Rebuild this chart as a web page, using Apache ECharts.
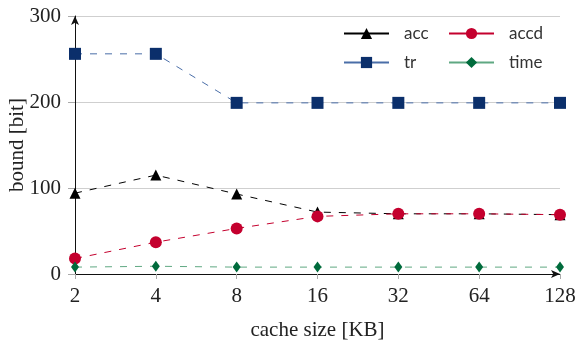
<!DOCTYPE html>
<html>
<head>
<meta charset="utf-8">
<script src="https://cdn.jsdelivr.net/npm/echarts@6/dist/echarts.min.js"></script>
<style>
  html, body { margin: 0; padding: 0; background: #fff; }
  #chart { width: 576px; height: 340px; }
</style>
</head>
<body>
<div id="chart"></div>
<script>
const cacheSizes = ['2', '4', '8', '16', '32', '64', '128']
const accValues = [94, 115, 93, 72, 70, 70, 69]
const accdValues = [18, 37, 53, 67, 70, 70, 69]
const trValues = [256, 256, 199, 199, 199, 199, 199]
const timeValues = [8, 9, 8, 8, 8, 8, 8]

const serifFont = '"Liberation Serif", "DejaVu Serif", serif'
const sansFont = 'Lato, "Open Sans", sans-serif'

function makeSeries(name, data, symbol, size, color, lineColor) {
  return {
    name: name,
    type: 'line',
    data: data,
    symbol: symbol,
    symbolSize: size,
    itemStyle: { color: color },
    lineStyle: { color: lineColor, width: 1, type: [7, 8] },
    z: 3
  }
}

// two legend columns, same look
function legendColumn(names, left) {
  return {
    data: names,
    orient: 'vertical',
    left: left,
    top: 20,
    itemGap: 12,
    itemWidth: 45,
    itemHeight: 14,
    lineStyle: { type: 'solid' },
    textStyle: {
      fontFamily: sansFont,
      fontSize: 17,
      lineHeight: 14,
      color: '#333',
      padding: [0, 0, 0, 10]
    }
  }
}

const chart = echarts.init(document.getElementById('chart'))

const option = {
  animation: false,
  grid: { left: 75, right: 16, top: 16, bottom: 66, outerBoundsMode: 'none' },
  legend: [
    legendColumn(['acc', 'tr'], 338),
    legendColumn(['accd', 'time'], 443)
  ],
  xAxis: {
    type: 'category',
    data: cacheSizes,
    boundaryGap: false,
    name: 'cache size [KB]',
    nameLocation: 'middle',
    nameGap: 46,
    nameMoveOverlap: false,
    nameTextStyle: { fontFamily: serifFont, fontSize: 21, color: '#222' },
    axisLine: {
      lineStyle: { color: '#111', width: 1 },
      symbol: ['none', 'arrow'],
      symbolSize: [6, 9]
    },
    axisTick: { alignWithLabel: true, length: 5, lineStyle: { color: '#aaa' } },
    axisLabel: { fontFamily: serifFont, fontSize: 21, color: '#222', margin: 12 },
    splitLine: { show: false }
  },
  yAxis: {
    type: 'value',
    min: 0,
    max: 300,
    interval: 100,
    name: 'bound [bit]',
    nameLocation: 'middle',
    nameGap: 47,
    nameMoveOverlap: false,
    nameTextStyle: { fontFamily: serifFont, fontSize: 21, color: '#222' },
    axisLine: {
      show: true,
      lineStyle: { color: '#111', width: 1 },
      symbol: ['none', 'arrow'],
      symbolSize: [6, 9]
    },
    axisTick: { show: true, length: 7, lineStyle: { color: '#aaa' } },
    axisLabel: { fontFamily: serifFont, fontSize: 21, color: '#222', margin: 14 },
    splitLine: { lineStyle: { color: '#cfcfcf', width: 1 } }
  },
  series: [
    makeSeries('acc', accValues, 'triangle', 11, '#000', '#000'),
    makeSeries('accd', accdValues, 'circle', 12, '#c4002e', '#c4002e'),
    makeSeries('tr', trValues, 'rect', 12, '#0b2f6b', '#4a6ea8'),
    makeSeries('time', timeValues, 'diamond', [8, 11], '#006b3c', '#5fa882')
  ]
}

chart.setOption(option)
</script>
</body>
</html>
